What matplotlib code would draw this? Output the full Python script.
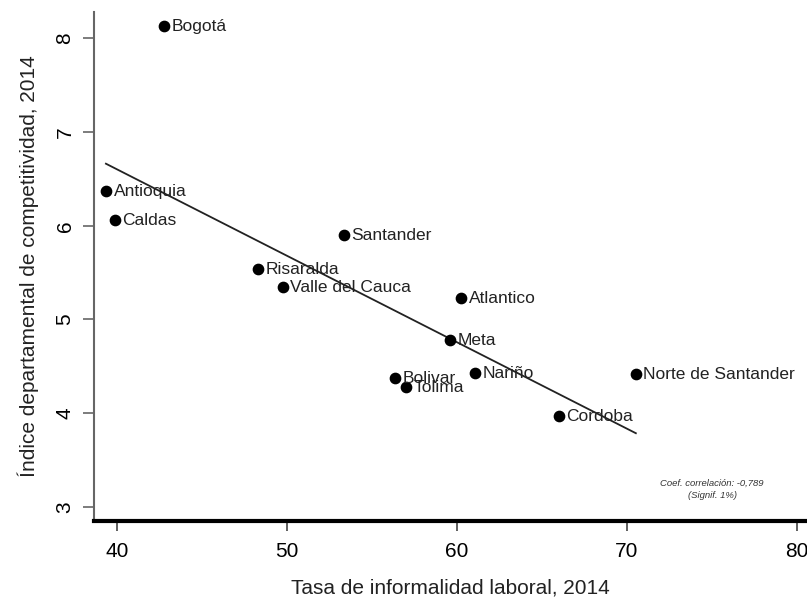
import numpy as np
import matplotlib.pyplot as plt

plt.rcParams['font.family'] = ['Liberation Sans', 'DejaVu Sans']

departamentos = ['Bogotá', 'Antioquia', 'Caldas', 'Santander', 'Risaralda',
                 'Valle del Cauca', 'Atlantico', 'Meta', 'Bolivar', 'Tolima',
                 'Nariño', 'Norte de Santander', 'Cordoba']
informalidad = [42.76, 39.35, 39.88, 53.35, 48.30, 49.76, 60.24, 59.60,
                56.35, 57.00, 61.06, 70.53, 66.00]
competitividad = [8.13, 6.37, 6.06, 5.90, 5.54, 5.35, 5.23, 4.78,
                  4.38, 4.28, 4.43, 4.42, 3.97]

x_ticks = [40, 50, 60, 70, 80]
y_ticks = [3, 4, 5, 6, 7, 8]

fig = plt.figure(figsize=(8.07, 6.02), dpi=100)
ax = fig.add_axes([0.1165, 0.1346, 0.8835, 0.8454])

x = np.array(informalidad)
y = np.array(competitividad)

ax.scatter(x, y, s=55, color='black', zorder=3)
for name, xi, yi in zip(departamentos, x, y):
    ax.annotate(name, (xi, yi), xytext=(5.5, -0.5), textcoords='offset points',
                ha='left', va='center', fontsize=12.5, color='#222222')

# recta de regresion
b, a = np.polyfit(x, y, 1)
xs = np.array([x.min(), x.max()])
ax.plot(xs, a + b * xs, color='#222222', lw=1.3)

r = np.corrcoef(x, y)[0, 1]
r_txt = f'{r:.3f}'.replace('.', ',')
ax.text(0.867, 0.074, f'Coef. correlación: {r_txt}', transform=ax.transAxes,
        ha='center', va='center', fontsize=6.8, style='italic', color='#333333')
ax.text(0.867, 0.050, '(Signif. 1%)', transform=ax.transAxes, ha='center',
        va='center', fontsize=6.8, style='italic', color='#333333')

ax.set_xlim(38.65, 80.6)
ax.set_ylim(2.85, 8.28)
ax.set_xticks(x_ticks)
ax.set_yticks(y_ticks)
ax.tick_params(axis='x', labelsize=15, length=7, width=1.2, pad=8, color='#444444')
ax.tick_params(axis='y', labelsize=15, length=8, width=1.2, pad=6,
               labelrotation=90, color='#666666')
for lab in ax.get_yticklabels():
    lab.set_va('center')

for s in ['top', 'right']:
    ax.spines[s].set_visible(False)
ax.spines['left'].set_color('#666666')
ax.spines['left'].set_linewidth(1.5)
ax.spines['bottom'].set_color('black')
ax.spines['bottom'].set_linewidth(3)

ax.set_xlabel('Tasa de informalidad laboral, 2014', fontsize=15, labelpad=13,
              color='#222222')
ax.set_ylabel('Índice departamental de competitividad, 2014', fontsize=15,
              labelpad=12, color='#222222')

fig.savefig('out.png', dpi=100)
